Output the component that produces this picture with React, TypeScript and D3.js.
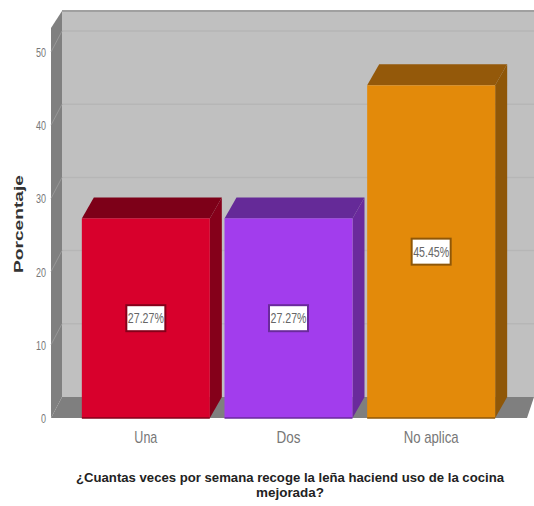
import React from "react";
import * as d3 from "d3";

const categories = ["Una", "Dos", "No aplica"];
const percentages = [27.27, 27.27, 45.45];
const percentLabels = ["27.27%", "27.27%", "45.45%"];
const frontColors = ["#d8002c", "#a23ded", "#e38a0a"];
const sideColors = ["#85001a", "#6a2a9c", "#8f5708"];
const topColors = ["#7d0018", "#652a98", "#94590a"];
const yTicks = [0, 10, 20, 30, 40, 50];
const titleLines = [
  "¿Cuantas veces por semana recoge la leña haciend uso de la cocina",
  "mejorada?",
];
const categoryLabelWidths = [23, 24, 55];
const titleLineWidths = [428, 68];

const width = 534;
const height = 506;
const depthX = 11;
const depthY = 21;
const baseY = 418;
const axisX = 51;

const y = d3.scaleLinear().domain([0, 50]).range([baseY, 52]);
const x = d3.scaleBand<string>().domain(categories).range([74.5, 502.5]).paddingInner(0.1).paddingOuter(0.05);

const poly = (pts: [number, number][]) => pts.map((p) => p.join(",")).join(" ");
const sans = "'Liberation Sans', Arial, sans-serif";

export default function App() {
  const wallTop = 11;
  const backBase = baseY - depthY;
  const barW = 128;
  return (
    <svg
      width={width}
      height={height}
      viewBox={`0 0 ${width} ${height}`}
      style={{ position: "absolute", left: 0, top: 0, background: "#fff" }}
    >
      {/* back wall, side wall and floor of the 3D box */}
      <rect x={axisX + depthX} y={wallTop} width={width - axisX - depthX} height={backBase - wallTop} fill="#c0c0c0" />
      <line x1={axisX + depthX} x2={width} y1={wallTop} y2={wallTop} stroke="#a0a0a0" strokeWidth={2} />
      <polygon
        points={poly([
          [axisX, wallTop + 17],
          [axisX + depthX, wallTop],
          [axisX + depthX, backBase],
          [axisX, baseY],
        ])}
        fill="#808080"
      />
      <polygon
        points={poly([
          [axisX, baseY],
          [axisX + depthX, backBase],
          [width, backBase],
          [width - 7, baseY],
        ])}
        fill="#7f7f7f"
      />
      {yTicks.slice(1).map((t) => (
        <line
          key={t}
          x1={axisX + depthX}
          x2={width}
          y1={y(t) - depthY}
          y2={y(t) - depthY}
          stroke="#b6b6b6"
          strokeWidth={1.5}
        />
      ))}
      {yTicks.slice(1).map((t) => (
        <line
          key={`side-${t}`}
          x1={axisX}
          x2={axisX + depthX}
          y1={y(t)}
          y2={y(t) - depthY}
          stroke="#989898"
          strokeWidth={1}
        />
      ))}

      {yTicks.map((t) => (
        <text
          key={`tick-${t}`}
          x={46}
          y={y(t) + 5}
          textAnchor="end"
          fontFamily={sans}
          fontSize={13}
          fill="#777"
          textLength={t === 0 ? 5 : 10}
          lengthAdjust="spacingAndGlyphs"
        >
          {t}
        </text>
      ))}

      {/* bars: front face, top face, right side face */}
      {categories.map((c, i) => {
        const left = x(c)! + (x.bandwidth() - barW) / 2;
        const right = left + barW;
        const top = y(percentages[i]);
        const mid = (left + right) / 2;
        const labelY = y(percentages[i] / 2);
        return (
          <g key={c}>
            <polygon
              points={poly([
                [left, top],
                [left + depthX + 1, top - depthY],
                [right + depthX + 1, top - depthY],
                [right, top],
              ])}
              fill={topColors[i]}
            />
            <polygon
              points={poly([
                [right, top],
                [right + depthX + 1, top - depthY],
                [right + depthX + 1, baseY - depthY],
                [right, baseY],
              ])}
              fill={sideColors[i]}
            />
            <rect x={left} y={top} width={barW} height={baseY - top} fill={frontColors[i]} />
            <line x1={left} x2={right} y1={baseY} y2={baseY} stroke={sideColors[i]} strokeWidth={1.5} />
            <rect
              x={mid - 19.5}
              y={labelY - 13}
              width={39}
              height={26}
              fill="#fff"
              stroke={sideColors[i]}
              strokeWidth={2}
            />
            <text
              x={mid}
              y={labelY + 5}
              textAnchor="middle"
              fontFamily={sans}
              fontSize={14}
              fill="#666"
              textLength={36}
              lengthAdjust="spacingAndGlyphs"
            >
              {percentLabels[i]}
            </text>
            <text
              x={mid}
              y={443}
              textAnchor="middle"
              fontFamily={sans}
              fontSize={17}
              fill="#777"
              textLength={categoryLabelWidths[i]}
              lengthAdjust="spacingAndGlyphs"
            >
              {c}
            </text>
          </g>
        );
      })}

      <text
        transform="translate(23,224) rotate(-90)"
        textAnchor="middle"
        fontFamily={sans}
        fontWeight="bold"
        fontSize={13}
        fill="#333"
        textLength={98}
        lengthAdjust="spacingAndGlyphs"
      >
        Porcentaje
      </text>

      {titleLines.map((line, i) => (
        <text
          key={line}
          x={290}
          y={482 + i * 15}
          textAnchor="middle"
          fontFamily={sans}
          fontWeight="bold"
          fontSize={13}
          fill="#222"
          textLength={titleLineWidths[i]}
          lengthAdjust="spacingAndGlyphs"
        >
          {line}
        </text>
      ))}
    </svg>
  );
}
